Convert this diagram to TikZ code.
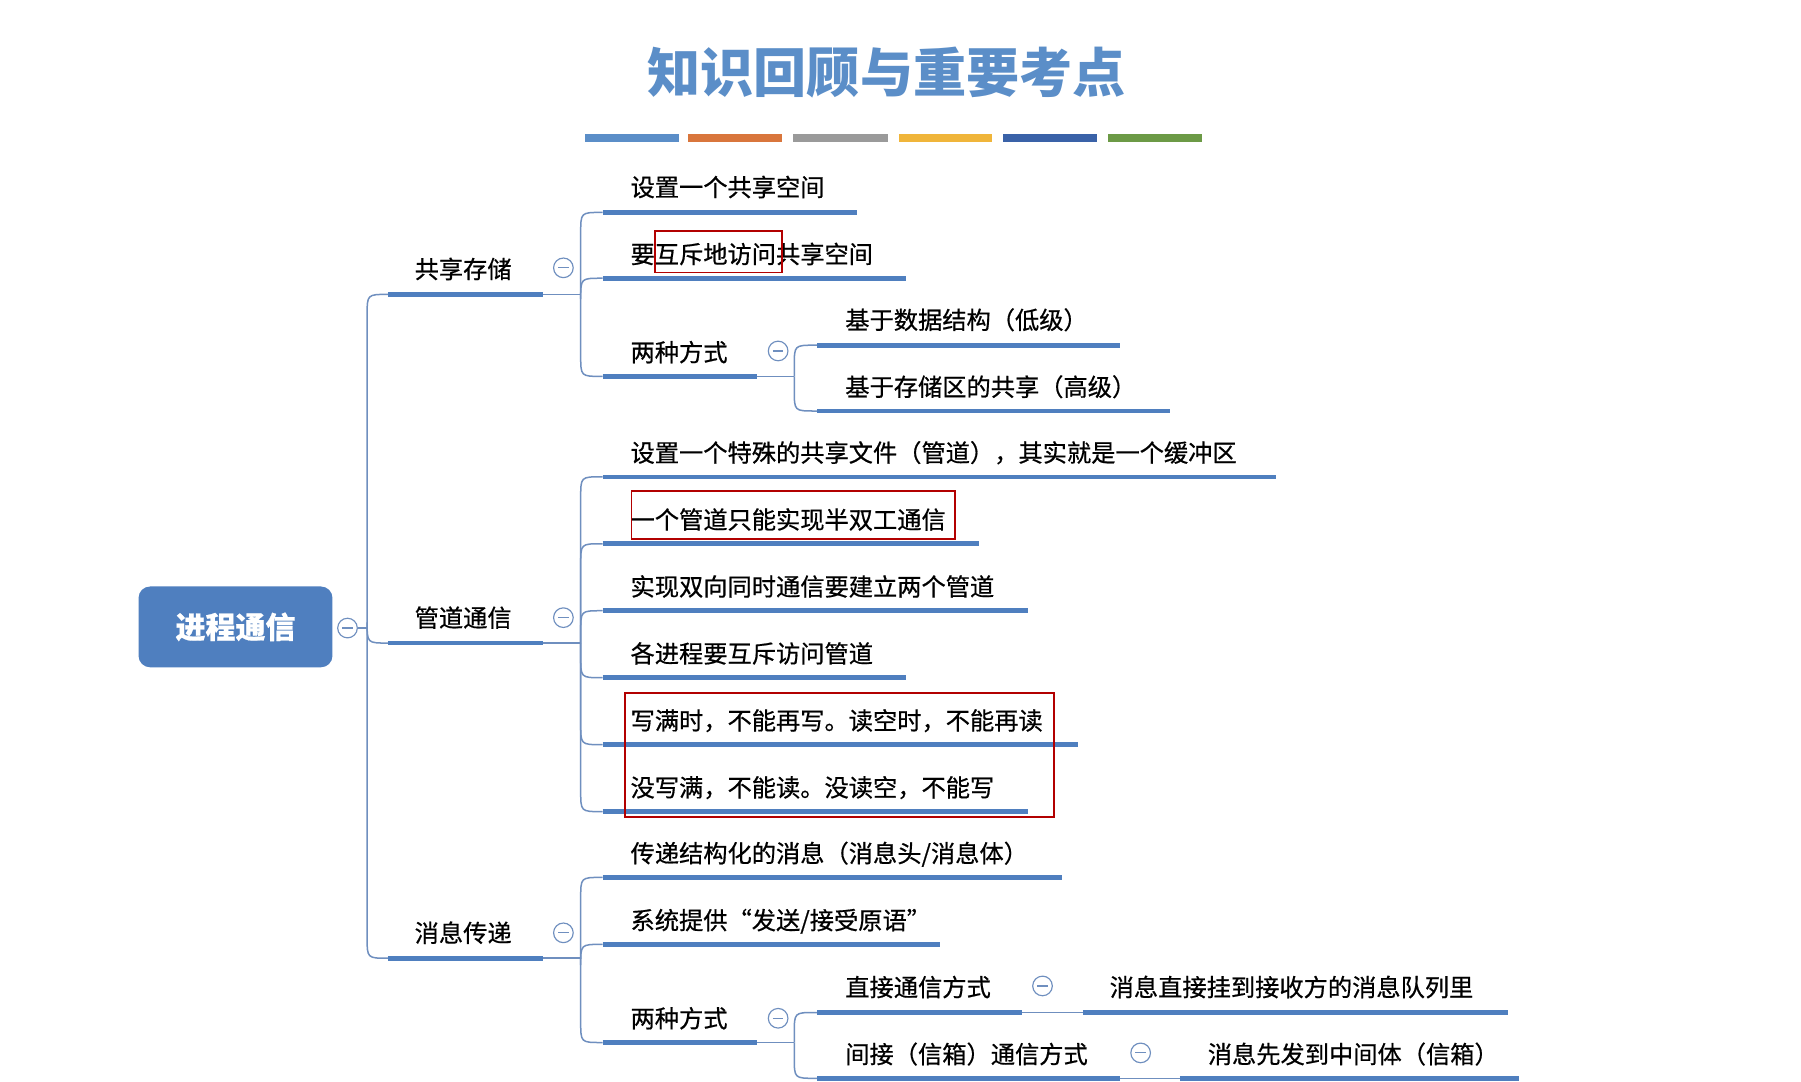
\documentclass[tikz,border=0pt]{standalone}
\usepackage{fontspec}
\usetikzlibrary{calc}
\setmainfont[FakeBold=0.6]{Noto Sans CJK SC}
\newfontfamily\ttlfont{Noto Sans CJK SC}
\begin{document}
\begin{tikzpicture}[x=1pt,y=-1pt,
  ul/.style={line width=4pt,draw=ulc},
  cn/.style={line width=1.3pt,draw=cnc},
  txt/.style={anchor=base west,inner sep=0pt,font=\fontsize{21}{24}\selectfont},
  red/.style={draw=red!70!black,line width=1.6pt}]
\definecolor{ulc}{HTML}{4F7FBF}
\definecolor{cnc}{HTML}{6F8FBF}
\definecolor{ttc}{HTML}{5B8EC8}
\useasboundingbox (0,0) rectangle (1560,937);
\fill[white] (0,0) rectangle (1560,937);
\newcommand\mn[2]{\node[draw=cnc,circle,line width=1pt,minimum size=17pt,inner sep=0pt] (#1) at (#2) {};\draw[cnc,line width=1pt] ($(#1)+(-4.5,0)$)--($(#1)+(4.5,0)$);}
\newcommand\br[4]{\pgfmathsetmacro\sg{(#3>#2)?1:-1}\draw[cn] (#1,#2) -- (#1,#3-\sg*18) .. controls (#1,#3) .. (#1+18,#3) -- (#4,#3);}
% title
\node[font=\ttlfont\fontsize{46}{52}\selectfont\bfseries,text=ttc] (title) at (768,63) {知识回顾与重要考点};
\definecolor{b1}{HTML}{5B8EC8}\definecolor{b2}{HTML}{D9763C}\definecolor{b3}{HTML}{9A9A9A}
\definecolor{b4}{HTML}{F0B53A}\definecolor{b5}{HTML}{3A62A8}\definecolor{b6}{HTML}{6C9A46}
\fill[b1] (507,116) rectangle (588,123);
\fill[b2] (596,116) rectangle (677,123);
\fill[b3] (687,116) rectangle (769,123);
\fill[b4] (779,116) rectangle (859,123);
\fill[b5] (869,116) rectangle (950,123);
\fill[b6] (960,116) rectangle (1041,123);
% root
\node[fill=ulc,rounded corners=10pt,minimum width=168pt,minimum height=70pt,text=white,font=\fontsize{26}{30}\selectfont\bfseries] (root) at (204,543) {进程通信};
\mn{rm}{301,544}
\draw[cn] (310,544) -- (318,544);
\br{318}{544}{255}{336}
\br{318}{544}{557}{336}
\br{318}{544}{830}{336}
% level 1
\foreach \y/\t/\c in {255/共享存储/232,557/管道通信/535,830/消息传递/808}{
  \draw[ul] (336,\y) -- (470,\y);
  \node[txt] at (359,\y-14) {\t};
  \draw[cn] (470,\y) -- (503,\y);
}
\mn{m1}{488,232}\mn{m2}{488,535}\mn{m3}{488,808}
% shared storage children
\br{503}{255}{184}{522}\br{503}{255}{241}{522}\br{503}{255}{326}{522}
\draw[ul] (522,184) -- (742,184); \node[txt] at (546,170) {设置一个共享空间};
\draw[ul] (522,241) -- (785,241); \node[txt] at (546,228) {要互斥地访问共享空间};
\draw[red] (567,200) rectangle (677,236);
\draw[ul] (522,326) -- (656,326); \node[txt] at (546,313) {两种方式};
\mn{m4}{674,304}
\draw[cn] (656,326) -- (688,326);
\br{688}{326}{299}{708}\br{688}{326}{356}{708}
\draw[ul] (708,299) -- (970,299); \node[txt] at (732,285) {基于数据结构（低级）};
\draw[ul] (708,356) -- (1013,356); \node[txt] at (732,343) {基于存储区的共享（高级）};
% pipe children
\foreach \y/\e/\t in {413/1105/设置一个特殊的共享文件（管道），其实就是一个缓冲区,471/848/一个管道只能实现半双工通信,529/890/实现双向同时通信要建立两个管道,587/785/各进程要互斥访问管道,645/934/写满时，不能再写。读空时，不能再读,703/890/没写满，不能读。没读空，不能写}{
  \br{503}{557}{\y}{522}
  \draw[ul] (522,\y) -- (\e,\y);
  \node[txt] at (546,\y-13) {\t};
}
\draw[red] (547,425) rectangle (827,467);
\draw[red] (541,600) rectangle (913,708);
% message children
\br{503}{830}{760}{522}\br{503}{830}{818}{522}\br{503}{830}{903}{522}
\draw[ul] (522,760) -- (920,760); \node[txt] at (546,747) {传递结构化的消息（消息头/消息体）};
\draw[ul] (522,818) -- (814,818); \node[txt] at (546,805) {系统提供“发送/接受原语”};
\draw[ul] (522,903) -- (656,903); \node[txt] at (546,890) {两种方式};
\mn{m5}{674,882}
\draw[cn] (656,903) -- (688,903);
\br{688}{903}{877}{708}\br{688}{903}{934}{708}
\draw[ul] (708,877) -- (885,877); \node[txt] at (732,863) {直接通信方式};
\mn{m6}{903,854}
\draw[cn] (885,877) -- (938,877);
\draw[ul] (938,877) -- (1306,877); \node[txt] at (961,863) {消息直接挂到接收方的消息队列里};
\draw[ul] (708,934) -- (970,934); \node[txt] at (732,921) {间接（信箱）通信方式};
\mn{m7}{988,912}
\draw[cn] (970,934) -- (1022,934);
\draw[ul] (1022,934) -- (1316,934); \node[txt] at (1046,921) {消息先发到中间体（信箱）};
\end{tikzpicture}
\end{document}
